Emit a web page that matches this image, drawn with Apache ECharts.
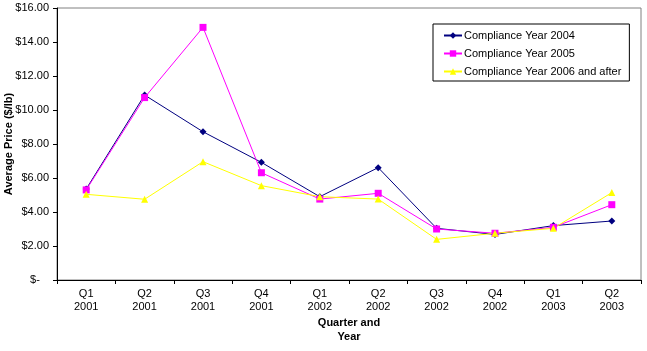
<!DOCTYPE html>
<html>
<head>
<meta charset="utf-8">
<script src="https://cdn.jsdelivr.net/npm/echarts@6/dist/echarts.min.js"></script>
<style>
  html, body { margin: 0; padding: 0; background: #fff; }
  #chart { width: 647px; height: 351px; }
</style>
</head>
<body>
<div id="chart"></div>
<script>
  // quarters along the x axis
  var quarters = ['Q1\n2001', 'Q2\n2001', 'Q3\n2001', 'Q4\n2001', 'Q1\n2002',
    'Q2\n2002', 'Q3\n2002', 'Q4\n2002', 'Q1\n2003', 'Q2\n2003']

  // average price ($/lb) per compliance year
  var year2004 = [5.35, 10.88, 8.72, 6.92, 4.9, 6.61, 3.04, 2.68, 3.2, 3.47]
  var year2005 = [5.3, 10.73, 14.86, 6.31, 4.76, 5.1, 3.0, 2.75, 3.1, 4.43]
  var year2006 = [5.04, 4.75, 6.96, 5.55, 4.9, 4.76, 2.39, 2.75, 3.04, 5.14]

  var font = 'Arial, "Liberation Sans", sans-serif'

  var chart = echarts.init(document.getElementById('chart'))

  function lineSeries(name, data, color, symbol, size) {
    return {
      name: name,
      type: 'line',
      data: data,
      symbol: symbol,
      symbolSize: size,
      showAllSymbol: true,
      lineStyle: { color: color, width: 1 },
      itemStyle: { color: color },
      emphasis: { disabled: true }
    }
  }

  chart.setOption({
    animation: false,
    textStyle: { fontFamily: font },
    grid: {
      left: 57,
      right: 6,
      top: 8,
      bottom: 71,
      outerBoundsMode: 'none',
      show: true,
      borderColor: '#808080',
      borderWidth: 1,
      backgroundColor: '#fff'
    },
    legend: {
      orient: 'vertical',
      left: 433,
      top: 24,
      padding: [5, 8, 3, 10],
      itemWidth: 18,
      itemHeight: 8,
      itemGap: 5,
      borderColor: '#000',
      borderWidth: 1,
      backgroundColor: '#fff',
      textStyle: { fontFamily: font, fontSize: 11, color: '#000', lineHeight: 13, padding: [0, 0, 0, -3] },
      data: ['Compliance Year 2004', 'Compliance Year 2005', 'Compliance Year 2006 and after']
    },
    xAxis: {
      type: 'category',
      data: quarters,
      boundaryGap: true,
      name: 'Quarter and\nYear',
      nameLocation: 'middle',
      nameGap: 36,
      nameMoveOverlap: false,
      nameTextStyle: { fontFamily: font, fontSize: 11, fontWeight: 'bold', color: '#000', lineHeight: 14 },
      axisLine: { lineStyle: { color: '#000', width: 1 } },
      axisTick: { show: true, alignWithLabel: false, length: 4, lineStyle: { color: '#000' } },
      axisLabel: { fontFamily: font, fontSize: 11, color: '#000', margin: 7, lineHeight: 13, interval: 0 },
      splitLine: { show: false }
    },
    yAxis: {
      type: 'value',
      min: 0,
      max: 16,
      interval: 2,
      name: 'Average Price ($/lb)',
      nameLocation: 'middle',
      nameGap: 43,
      nameMoveOverlap: false,
      nameTextStyle: { fontFamily: font, fontSize: 11, fontWeight: 'bold', color: '#000' },
      axisLine: { show: true, lineStyle: { color: '#000', width: 1 } },
      axisTick: { show: true, length: 4, lineStyle: { color: '#000' } },
      axisLabel: {
        fontFamily: font,
        fontSize: 11,
        color: '#000',
        margin: 8,
        formatter: function (v) {
          return v === 0 ? '$-   ' : '$' + v.toFixed(2)
        }
      },
      splitLine: { show: false }
    },
    series: [
      lineSeries('Compliance Year 2004', year2004, '#000080', 'diamond', 7),
      lineSeries('Compliance Year 2005', year2005, '#FF00FF', 'rect', 7),
      lineSeries('Compliance Year 2006 and after', year2006, '#FFFF00', 'triangle', 7)
    ]
  })
</script>
</body>
</html>
